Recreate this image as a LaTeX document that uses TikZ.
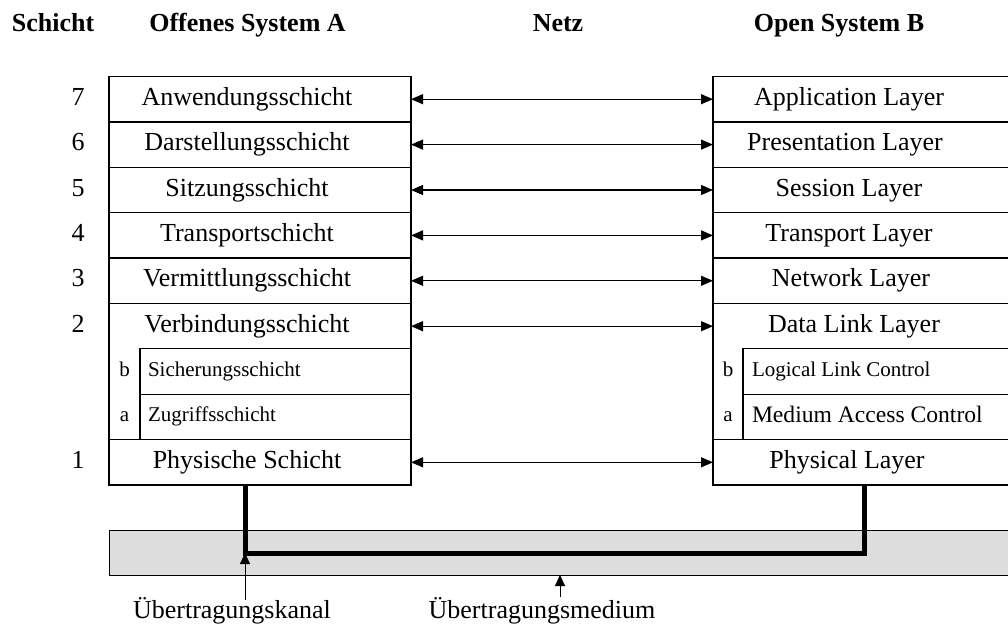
\documentclass[tikz,border=0pt]{standalone}
\usepackage{fontspec}
\setmainfont{Liberation Serif}
\usetikzlibrary{arrows.meta}
\definecolor{medgray}{HTML}{DDDDDD}
\begin{document}
\begin{tikzpicture}[x=1pt,y=-1pt,
  every node/.style={inner sep=0pt, outer sep=0pt},
  txt/.style={font=\fontsize{26}{30}\selectfont, text height=18pt, text depth=6pt},
  smalltxt/.style={font=\fontsize{21}{25}\selectfont, text height=14.5pt, text depth=5pt},
  mactxt/.style={font=\fontsize{23.6}{28}\selectfont, text height=16.5pt, text depth=5.5pt},
  head/.style={font=\fontsize{26}{30}\selectfont\bfseries, anchor=base},
  framebox/.style={draw, line width=1.3pt, minimum width=302pt, minimum height=408.5pt, anchor=north west},
  subbox/.style={draw, line width=1.3pt, minimum width=272pt, minimum height=45.4pt, anchor=north west},
  divider/.style={line width=1.3pt},
  biarrow/.style={line width=1.2pt, {Triangle[length=12pt,width=10pt]}-{Triangle[length=12pt,width=10pt]}},
  uparrow/.style={line width=0.9pt, -{Triangle[length=11pt,width=10pt]}},
  channel/.style={line width=5pt, line join=miter}
]
\clip (0,0) rectangle (1008,626);

% headers
\node[head] (hS) at (53,32) {Schicht};
\node[head] (hA) at (247.5,32) {Offenes System A};
\node[head] (hN) at (558,32) {Netz};
\node[head] (hB) at (839,32) {Open System B};

% frames
\node[framebox] (LA) at (109,76.5) {};
\node[framebox] (RB) at (713,76.5) {};

% row dividers
\foreach \yy in {121.9,167.3,212.7,258.1,303.5,439.6}{
  \draw[divider] (LA.west |- 0,\yy) -- (LA.east |- 0,\yy);
  \draw[divider] (RB.west |- 0,\yy) -- (RB.east |- 0,\yy);
}

% sub boxes
\node[subbox, minimum width=271pt] (Lb) at (140,348.8) {};
\node[subbox, minimum width=271pt] (La) at (140,394.2) {};
\node[subbox] (Rb) at (743,348.8) {};
\node[subbox] (Ra) at (743,394.2) {};

% layer numbers
\node[txt] (n7) at (78,99.2) {7};
\node[txt] (n6) at (78,144.6) {6};
\node[txt] (n5) at (78,190.0) {5};
\node[txt] (n4) at (78,235.4) {4};
\node[txt] (n3) at (78,280.8) {3};
\node[txt] (n2) at (78,326.2) {2};
\node[txt] (n1) at (78,462.3) {1};

% left texts
\node[txt] (L7) at (247,99.2) {Anwendungsschicht};
\node[txt] (L6) at (247,144.6) {Darstellungsschicht};
\node[txt] (L5) at (247,190.0) {Sitzungsschicht};
\node[txt] (L4) at (247,235.4) {Transportschicht};
\node[txt] (L3) at (247,280.8) {Vermittlungsschicht};
\node[txt] (L2) at (247,326.2) {Verbindungsschicht};
\node[txt] (L1) at (247,462.3) {Physische Schicht};
\node[smalltxt] (Llb) at (124.5,371.6) {b};
\node[smalltxt] (Lla) at (124.5,417.0) {a};
\node[smalltxt, anchor=west] (Lbt) at ([xshift=8pt]Lb.west) {Sicherungsschicht};
\node[smalltxt, anchor=west] (Lat) at ([xshift=8pt]La.west) {Zugriffsschicht};

% right texts
\node[txt] (R7) at (849,99.2) {Application Layer};
\node[txt] (R6) at (845,144.6) {Presentation Layer};
\node[txt] (R5) at (849,190.0) {Session Layer};
\node[txt] (R4) at (849,235.4) {Transport Layer};
\node[txt] (R3) at (851,280.8) {Network Layer};
\node[txt] (R2) at (854,326.2) {Data Link Layer};
\node[txt] (R1) at (847,462.3) {Physical Layer};
\node[smalltxt] (Rlb) at (728,371.6) {b};
\node[smalltxt] (Rla) at (728,417.0) {a};
\node[smalltxt, anchor=west] (Rbt) at ([xshift=9pt]Rb.west) {Logical Link Control};
\node[mactxt, anchor=west] (Rat) at ([xshift=9pt]Ra.west) {Medium Access Control};

% peer arrows
\foreach \i in {7,6,5,4,3,2,1}{
  \draw[biarrow] (L\i -| LA.east) -- (R\i -| RB.west);
}

% transmission medium
\node[draw, fill=medgray, line width=1pt, minimum width=906pt, minimum height=45pt, anchor=north west] (med) at (109,530) {};

% transmission channel
\coordinate (chL) at (245,553);
\coordinate (chR) at (864,553);
\draw[channel] (LA.south -| chL) -- (chL) -- (chR) -- (RB.south -| chR);

% bottom labels
\node[txt, anchor=base] (kanal) at (232,618) {Übertragungskanal};
\node[txt, anchor=base] (medium) at (542,618) {Übertragungsmedium};
\draw[uparrow] (kanal.north -| chL) -- (chL);
\coordinate (medx) at (560,0);
\draw[uparrow] ([yshift=3pt]medium.north -| medx) -- (med.south -| medx);
\end{tikzpicture}
\end{document}
